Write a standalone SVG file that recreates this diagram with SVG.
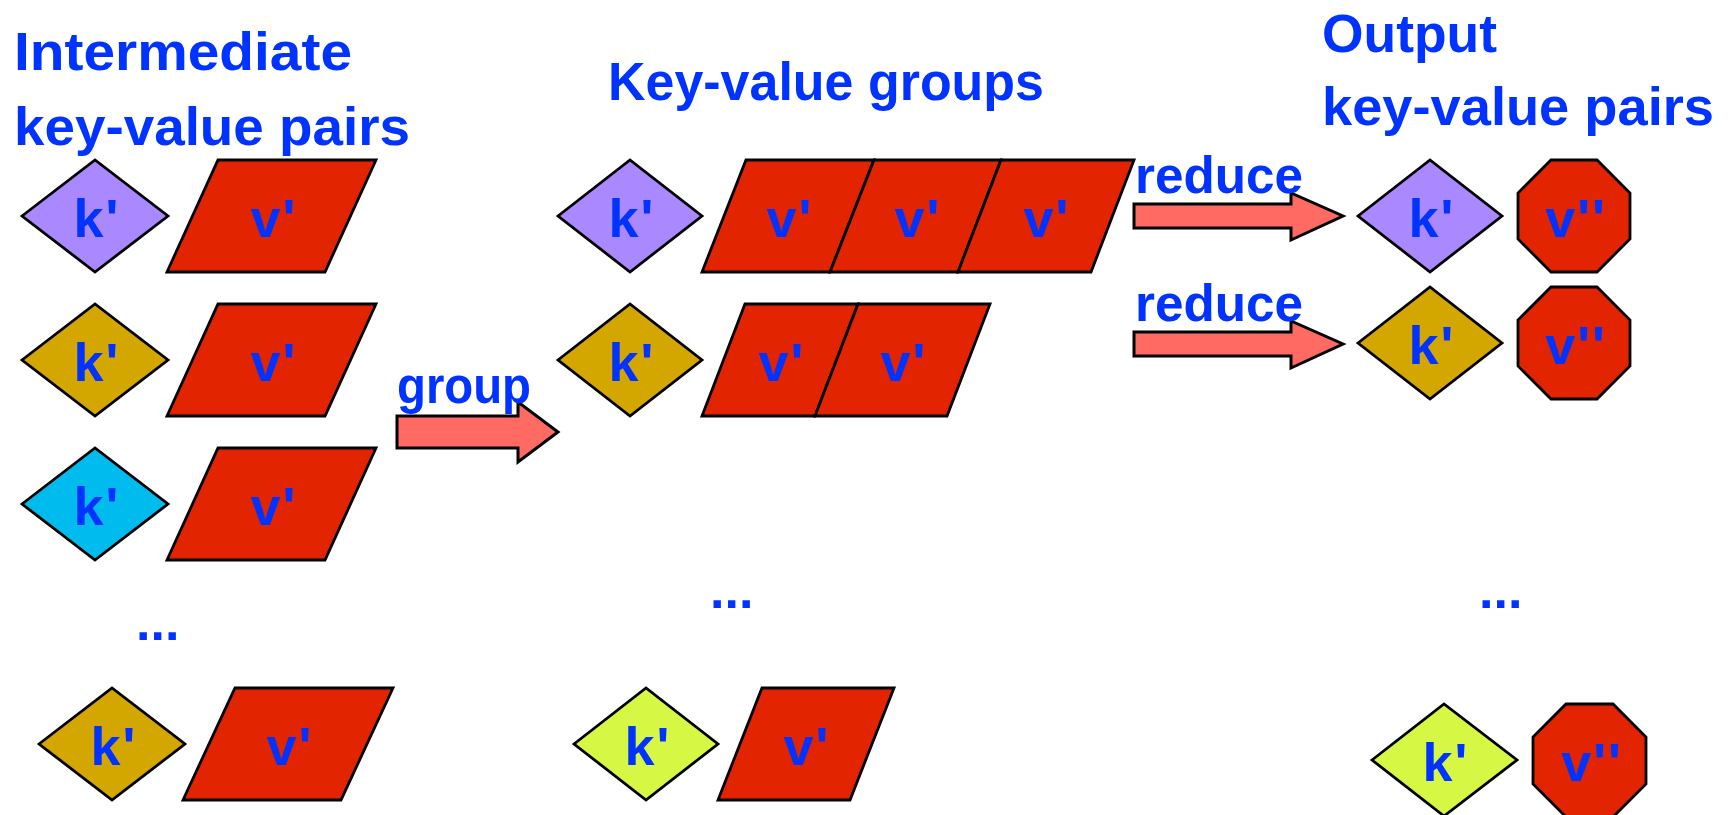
<svg xmlns="http://www.w3.org/2000/svg" width="1734" height="815" viewBox="0 0 1734 815">
<style>
  .t { font-family: "Liberation Sans", Arial, sans-serif; font-weight: bold; fill: #0033FF; font-size: 54px; }
  .al { font-family: "Liberation Sans", Arial, sans-serif; font-weight: bold; fill: #0033FF; font-size: 52px; }
  .lbl { font-family: "Liberation Sans", Arial, sans-serif; font-weight: bold; fill: #0033FF; font-size: 54px; text-anchor: middle; letter-spacing: 2px; }
  .dots { font-family: "Liberation Sans", Arial, sans-serif; font-weight: bold; fill: #0033FF; font-size: 52px; }
  .sh { stroke: #000; stroke-width: 2.8; stroke-linejoin: miter; }
  .purple { fill: #AA88FF; }
  .gold { fill: #D4A600; }
  .cyan { fill: #00BBEE; }
  .lime { fill: #D6F844; }
  .red { fill: #E22400; }
  .arrow { fill: #FF6B63; stroke: #000; stroke-width: 3; }
</style>
<rect width="1734" height="815" fill="#FFFFFF"/>

<g id="titles">
  <text class="t" x="14" y="70" textLength="338" lengthAdjust="spacingAndGlyphs">Intermediate</text>
  <text class="t" x="14" y="145" textLength="396" lengthAdjust="spacingAndGlyphs">key-value pairs</text>
  <text class="t" x="608" y="100" textLength="436" lengthAdjust="spacingAndGlyphs">Key-value groups</text>
  <text class="t" x="1322" y="52" textLength="175" lengthAdjust="spacingAndGlyphs">Output</text>
  <text class="t" x="1322" y="125" textLength="392" lengthAdjust="spacingAndGlyphs">key-value pairs</text>
</g>

<!-- Left column: intermediate pairs -->
<g id="in-k1"><polygon class="sh purple" points="22,216 95,160 168,216 95,272"/><text class="lbl" x="97" y="237">k'</text></g>
<g id="in-v1"><polygon class="sh red" points="218,160 376,160 325,272 167,272"/><text class="lbl" x="274" y="237">v'</text></g>
<g id="in-k2"><polygon class="sh gold" points="22,360 95,304 168,360 95,416"/><text class="lbl" x="97" y="381">k'</text></g>
<g id="in-v2"><polygon class="sh red" points="218,304 376,304 325,416 167,416"/><text class="lbl" x="274" y="381">v'</text></g>
<g id="in-k3"><polygon class="sh cyan" points="22,504 95,448 168,504 95,560"/><text class="lbl" x="97" y="525">k'</text></g>
<g id="in-v3"><polygon class="sh red" points="218,448 376,448 325,560 167,560"/><text class="lbl" x="274" y="525">v'</text></g>
<g id="in-dots"><text class="dots" x="136" y="640">...</text></g>
<g id="in-k4"><polygon class="sh gold" points="39,744 112,688 185,744 112,800"/><text class="lbl" x="114" y="765">k'</text></g>
<g id="in-v4"><polygon class="sh red" points="235,688 393,688 341,800 183,800"/><text class="lbl" x="290" y="765">v'</text></g>

<!-- Middle column: key-value groups -->
<g id="grp-k1"><polygon class="sh purple" points="558,216 630,160 702,216 630,272"/><text class="lbl" x="632" y="237">k'</text></g>
<g id="grp-v1">
  <polygon class="sh red" points="746,160 874,160 830,272 702,272"/>
  <polygon class="sh red" points="874,160 1001,160 958,272 830,272"/>
  <polygon class="sh red" points="1001,160 1134,160 1091,272 958,272"/>
  <text class="lbl" x="790" y="237">v'</text>
  <text class="lbl" x="918" y="237">v'</text>
  <text class="lbl" x="1047" y="237">v'</text>
</g>
<g id="grp-k2"><polygon class="sh gold" points="558,360 630,304 702,360 630,416"/><text class="lbl" x="632" y="381">k'</text></g>
<g id="grp-v2">
  <polygon class="sh red" points="745,304 858,304 815,416 702,416"/>
  <polygon class="sh red" points="858,304 990,304 947,416 815,416"/>
  <text class="lbl" x="782" y="381">v'</text>
  <text class="lbl" x="904" y="381">v'</text>
</g>
<g id="grp-dots"><text class="dots" x="710" y="608">...</text></g>
<g id="grp-k3"><polygon class="sh lime" points="574,744 646,688 718,744 646,800"/><text class="lbl" x="648" y="765">k'</text></g>
<g id="grp-v3"><polygon class="sh red" points="762,688 894,688 850,800 718,800"/><text class="lbl" x="807" y="765">v'</text></g>

<!-- Right column: output pairs -->
<g id="out-k1"><polygon class="sh purple" points="1358,216 1430,160 1502,216 1430,272"/><text class="lbl" x="1432" y="237">k'</text></g>
<g id="out-v1"><polygon class="sh red" points="1551,160 1597,160 1630,193 1630,239 1597,272 1551,272 1518,239 1518,193"/><text class="lbl" x="1576" y="237" letter-spacing="7">v''</text></g>
<g id="out-k2"><polygon class="sh gold" points="1358,343 1430,287 1502,343 1430,399"/><text class="lbl" x="1432" y="364">k'</text></g>
<g id="out-v2"><polygon class="sh red" points="1551,287 1597,287 1630,320 1630,366 1597,399 1551,399 1518,366 1518,320"/><text class="lbl" x="1576" y="364" letter-spacing="7">v''</text></g>
<g id="out-dots"><text class="dots" x="1479" y="608">...</text></g>
<g id="out-k3"><polygon class="sh lime" points="1372,760 1444,704 1517,760 1444,816"/><text class="lbl" x="1446" y="781">k'</text></g>
<g id="out-v3"><polygon class="sh red" points="1566,704 1613,704 1646,737 1646,784 1613,817 1566,817 1533,784 1533,737"/><text class="lbl" x="1592" y="781" letter-spacing="7">v''</text></g>

<!-- Connectors -->
<g id="connectors">
  <polygon class="arrow" points="397,416 518,416 518,402 558,432 518,462 518,448 397,448"/>
  <text class="al" x="397" y="403" textLength="134" lengthAdjust="spacingAndGlyphs">group</text>
  <polygon class="arrow" points="1134,204 1291,204 1291,193 1343,216 1291,240 1291,228 1134,228"/>
  <text class="al" x="1135" y="193" textLength="168" lengthAdjust="spacingAndGlyphs">reduce</text>
  <polygon class="arrow" points="1134,332 1291,332 1291,321 1343,344 1291,368 1291,356 1134,356"/>
  <text class="al" x="1135" y="321" textLength="168" lengthAdjust="spacingAndGlyphs">reduce</text>
</g>
</svg>
